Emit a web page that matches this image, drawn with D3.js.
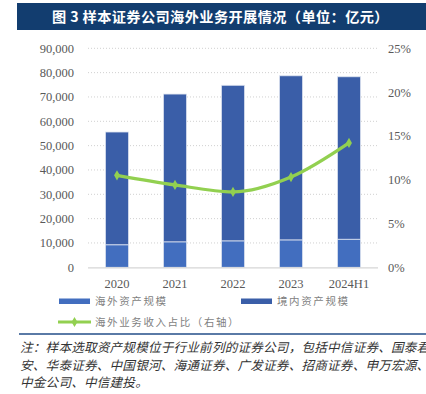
<!DOCTYPE html>
<html>
<head>
<meta charset="utf-8">
<script src="https://cdn.jsdelivr.net/npm/d3@7"></script>
<style>
  body { margin: 0; background: #fff; }
  svg { display: block; }
</style>
</head>
<body>
<svg id="chart" width="426" height="394"></svg>
<script>
// values (亿元 / %)
var years = ["2020", "2021", "2022", "2023", "2024H1"];
var overseas = [9200, 10400, 10800, 11200, 11500];
var domestic = [46400, 60800, 64000, 67500, 66800];
var incomeShare = [10.5, 9.4, 8.6, 10.3, 14.2];
var leftTicks = [0, 10000, 20000, 30000, 40000, 50000, 60000, 70000, 80000, 90000];
var rightTicks = [0, 5, 10, 15, 20, 25];

var svg = d3.select("#chart");
var serif = "'Liberation Serif', 'Times New Roman', serif";
var cjk = "'Noto Sans CJK SC', sans-serif";

// title bar
svg.append("rect").attr("x", 17).attr("y", 3).attr("width", 409).attr("height", 27)
    .attr("fill", "#123d6f");
svg.append("text").attr("x", 52).attr("y", 21.5)
    .attr("fill", "#fff").attr("font-family", cjk).attr("font-weight", "bold")
    .attr("font-size", 14.2).attr("letter-spacing", 0.4)
    .text("图 3  样本证券公司海外业务开展情况（单位：亿元）");

var x0 = 88, x1 = 378, yTop = 48.3, yBot = 267.3;

var x = d3.scaleBand().domain(years).range([x0, x1]).paddingInner(0.6).paddingOuter(0.3);
var y = d3.scaleLinear().domain([0, 90000]).range([yBot, yTop]);
var y2 = d3.scaleLinear().domain([0, 25]).range([yBot, yTop]);

// gridlines
svg.append("g").selectAll("line").data(leftTicks.slice(1)).enter().append("line")
    .attr("x1", x0).attr("x2", x1)
    .attr("y1", function(d){ return y(d); }).attr("y2", function(d){ return y(d); })
    .attr("stroke", "#d0d0d0").attr("stroke-width", 1).attr("stroke-dasharray", "1,2");

// left axis
var la = svg.append("g").attr("transform", "translate(74,0)")
    .call(d3.axisLeft(y).tickValues(leftTicks).tickSize(0).tickPadding(0)
        .tickFormat(d3.format(",")));
la.select(".domain").remove();
la.selectAll("text").attr("font-family", serif).attr("font-size", 12.5).attr("fill", "#595959");

// right axis
var ra = svg.append("g").attr("transform", "translate(388,0)")
    .call(d3.axisRight(y2).tickValues(rightTicks).tickSize(0).tickPadding(0)
        .tickFormat(function(d){ return d + "%"; }));
ra.select(".domain").remove();
ra.selectAll("text").attr("font-family", serif).attr("font-size", 12.5).attr("fill", "#595959");

// stacked bars
var bars = svg.append("g");
years.forEach(function(yr, i){
    bars.append("rect")
        .attr("x", x(yr)).attr("width", x.bandwidth())
        .attr("y", y(overseas[i] + domestic[i])).attr("height", y(overseas[i]) - y(overseas[i] + domestic[i]))
        .attr("fill", "#3a5ea8").attr("stroke", "#dfe5f0").attr("stroke-width", 0.8);
    bars.append("rect")
        .attr("x", x(yr)).attr("width", x.bandwidth())
        .attr("y", y(overseas[i])).attr("height", y(0) - y(overseas[i]))
        .attr("fill", "#426ebf").attr("stroke", "#dfe5f0").attr("stroke-width", 0.8);
});

// baseline
svg.append("line").attr("x1", x0).attr("x2", x1).attr("y1", yBot + 0.5).attr("y2", yBot + 0.5)
    .attr("stroke", "#d6d6d6").attr("stroke-width", 1.2);

// x labels
svg.append("g").selectAll("text").data(years).enter().append("text")
    .attr("x", function(d){ return x(d) + x.bandwidth() / 2; }).attr("y", 287.5)
    .attr("text-anchor", "middle").attr("font-family", serif).attr("font-size", 12.5)
    .attr("fill", "#595959").text(function(d){ return d; });

// line
var line = d3.line()
    .x(function(d, i){ return x(years[i]) + x.bandwidth() / 2; })
    .y(function(d){ return y2(d); })
    .curve(d3.curveMonotoneX);
svg.append("path").datum(incomeShare).attr("d", line)
    .attr("fill", "none").attr("stroke", "#92d050").attr("stroke-width", 3.2)
    .attr("stroke-linejoin", "round");
var diamond = d3.symbol().type(d3.symbolDiamond).size(30);
svg.append("g").selectAll("path").data(incomeShare).enter().append("path")
    .attr("d", diamond)
    .attr("transform", function(d, i){ return "translate(" + (x(years[i]) + x.bandwidth() / 2) + "," + y2(d) + ")"; })
    .attr("fill", "#92d050");

// legend
var lg = svg.append("g").attr("font-family", cjk).attr("font-size", 10.5).attr("fill", "#7f7f7f")
    .attr("letter-spacing", 1.6);
lg.append("rect").attr("x", 59).attr("y", 298.5).attr("width", 31).attr("height", 5.5).attr("fill", "#426ebf");
lg.append("text").attr("x", 95).attr("y", 305).text("海外资产规模");
lg.append("rect").attr("x", 241).attr("y", 298.5).attr("width", 31).attr("height", 5.5).attr("fill", "#3a5ea8");
lg.append("text").attr("x", 277).attr("y", 305).text("境内资产规模");
lg.append("line").attr("x1", 58).attr("x2", 91).attr("y1", 322).attr("y2", 322)
    .attr("stroke", "#92d050").attr("stroke-width", 3.2);
lg.append("path").attr("d", diamond).attr("transform", "translate(74.5,322)").attr("fill", "#92d050");
lg.append("text").attr("x", 95).attr("y", 326).text("海外业务收入占比（右轴）");

// separator
svg.append("line").attr("x1", 19).attr("x2", 426).attr("y1", 334).attr("y2", 334)
    .attr("stroke", "#5a7aa6").attr("stroke-width", 2);

// note
var notes = [
    "注：样本选取资产规模位于行业前列的证券公司，包括中信证券、国泰君",
    "安、华泰证券、中国银河、海通证券、广发证券、招商证券、申万宏源、",
    "中金公司、中信建投。",
    "数据来源：Wind，中诚信国际整理"
];
svg.append("g").selectAll("text").data(notes).enter().append("text")
    .attr("x", 20).attr("y", function(d, i){ return 352 + i * 17.5; })
    .attr("font-family", cjk).attr("font-size", 12.6).attr("font-style", "italic")
    .attr("fill", "#333").attr("letter-spacing", 0.2)
    .text(function(d){ return d; });
</script>
</body>
</html>
